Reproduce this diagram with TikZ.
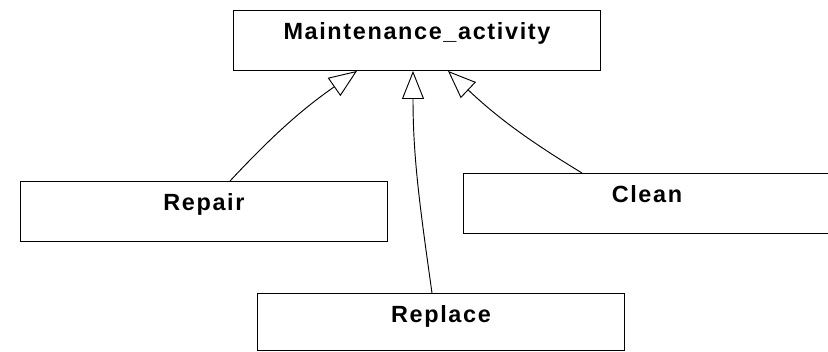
\documentclass[tikz,border=0pt]{standalone}
\usepackage{fontspec}
\newfontfamily\classfont[LetterSpace=7]{Liberation Sans}
\usetikzlibrary{arrows.meta,calc}

\begin{document}
\begin{tikzpicture}[x=0.03cm, y=0.03cm,
    font=\classfont\bfseries\fontsize{20}{24}\selectfont,
    classbox/.style={draw, line width=0.8pt, anchor=north west, inner sep=0pt,
      minimum width=11.01cm, text height=0.87cm, text depth=0.93cm},
    inherit/.style={line width=0.8pt, -{Triangle[open, length=0.84cm, width=0.66cm, line width=0.8pt]}}]
    \useasboundingbox (0,0) rectangle (828,351);
    \node[classbox] (activity) at (233,341) {Maintenance\_activity};
    \node[classbox] (repair) at (20,170) {Repair};
    \node[classbox] (clean) at (463,178) {Clean};
    \node[classbox, text depth=0.84cm] (replace) at (257,58) {Replace};

    \draw[inherit] ($(repair.north west)+(210,0)$) to[bend left=6] ($(activity.south west)+(124,0)$);
    \draw[inherit] ($(replace.north west)+(175,0)$) to[out=98, in=-90] ($(activity.south west)+(180,0)$);
    \draw[inherit] ($(clean.north west)+(119,0)$) to[bend left=6] ($(activity.south west)+(215,0)$);
\end{tikzpicture}
\end{document}
